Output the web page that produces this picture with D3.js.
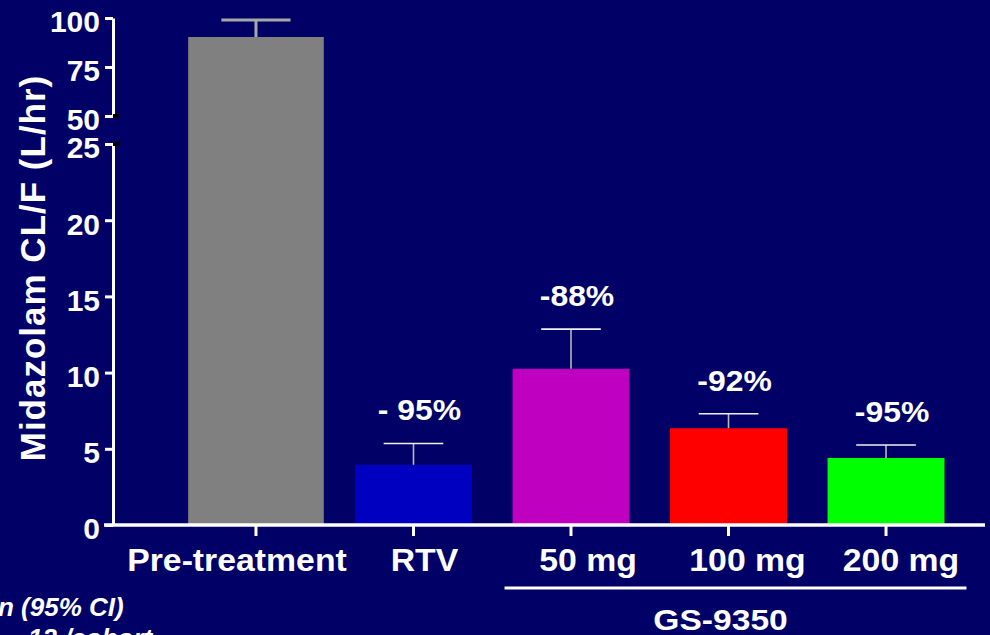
<!DOCTYPE html>
<html>
<head>
<meta charset="utf-8">
<script src="https://cdn.jsdelivr.net/npm/d3@7"></script>
<style>
  html, body { margin: 0; padding: 0; background: #000066; overflow: hidden; }
  svg { display: block; }
  text { font-family: "Liberation Sans", Arial, sans-serif; font-weight: bold; fill: #ffffff; }
</style>
</head>
<body>
<svg id="chart" width="990" height="635"></svg>
<script>
// Midazolam clearance by treatment (geometric mean with upper 95% CI)
const categories   = ["Pre-treatment", "RTV", "50 mg", "100 mg", "200 mg"];
const clearance    = [90.3, 3.95, 10.25, 6.35, 4.4];
const upperCI      = [99.0, 5.35, 12.85, 7.3, 5.25];
const changeLabels = [null, "- 95%", "-88%", "-92%", "-95%"];
const barColors    = ["#808080", "#0000c0", "#c000c0", "#ff0000", "#00ff00"];
const lowerTicks   = [0, 5, 10, 15, 20, 25];
const upperTicks   = [50, 75, 100];
const groupMembers = ["50 mg", "100 mg", "200 mg"];
const groupLabel   = "GS-9350";
const yTitle       = "Midazolam CL/F (L/hr)";
const noteLines    = ["n (95% CI)", "12 /cohort"];

const svg = d3.select("#chart");
const W = 990, H = 635;
svg.append("rect").attr("width", W).attr("height", H).attr("fill", "#000066");

// Broken y axis: lower segment 0–25, upper segment 50–100
const yLow  = d3.scaleLinear().domain([0, 25]).range([525, 144]);
const yHigh = d3.scaleLinear().domain([50, 100]).range([116, 18]);
const yPos = v => (v <= 25 ? yLow(v) : yHigh(v));

const x = d3.scaleBand()
  .domain(categories)
  .range([166, 976])
  .paddingInner(0.2576)
  .paddingOuter(0.2);
const bw = x.bandwidth();
const cx = c => x(c) + bw / 2;
const barWidth = (c, i) => (i === 0 ? bw * 1.16 : bw);

// bars
svg.append("g").selectAll("rect")
  .data(categories)
  .join("rect")
  .attr("x", (c, i) => cx(c) - barWidth(c, i) / 2)
  .attr("width", (c, i) => barWidth(c, i))
  .attr("y", (c, i) => yPos(clearance[i]))
  .attr("height", (c, i) => 525 - yPos(clearance[i]))
  .attr("fill", (c, i) => barColors[i]);

// upper CI error bars
const err = svg.append("g");
categories.forEach((c, i) => {
  const half = barWidth(c, i) * 0.255;
  const sw = i === 0 ? 3 : 1.6;
  err.append("line")
    .attr("x1", cx(c)).attr("x2", cx(c))
    .attr("y1", yPos(clearance[i])).attr("y2", yPos(upperCI[i]))
    .attr("stroke", i === 0 ? "#a8a8a8" : "#b8b8b8").attr("stroke-width", sw);
  err.append("line")
    .attr("x1", cx(c) - half).attr("x2", cx(c) + half)
    .attr("y1", yPos(upperCI[i])).attr("y2", yPos(upperCI[i]))
    .attr("stroke", i === 0 ? "#a8a8a8" : "#f0f0f0").attr("stroke-width", sw);
});

// percent change labels
svg.append("g").selectAll("text")
  .data(categories.filter((c, i) => changeLabels[i]))
  .join("text")
  .attr("transform", c => {
    const i = categories.indexOf(c);
    return `translate(${cx(c) + 6},${yPos(upperCI[i]) - 23}) scale(1.1,1)`;
  })
  .attr("text-anchor", "middle")
  .style("font-size", "29px")
  .text(c => changeLabels[categories.indexOf(c)]);

// y axis segments
function styleAxis(g) {
  g.selectAll("path.domain").attr("stroke", "#fff").attr("stroke-width", 3);
  g.selectAll(".tick line").attr("stroke", "#fff").attr("stroke-width", 3);
  g.selectAll(".tick text")
    .attr("fill", "#fff")
    .attr("dy", "0.46em")
    .style("font-size", "30px")
    .style("font-family", "'Liberation Sans', Arial, sans-serif")
    .style("font-weight", "bold");
}
svg.append("g")
  .attr("transform", "translate(113,0)")
  .call(d3.axisLeft(yLow).tickValues(lowerTicks).tickSize(8).tickSizeOuter(0).tickPadding(5))
  .call(styleAxis);
svg.append("g")
  .attr("transform", "translate(113,0)")
  .call(d3.axisLeft(yHigh).tickValues(upperTicks).tickSize(8).tickSizeOuter(0).tickPadding(5))
  .call(styleAxis);

// break markers
[yHigh(50), yLow(25)].forEach(yy => {
  svg.append("rect").attr("x", 113).attr("y", yy - 2).attr("width", 7).attr("height", 4).attr("fill", "#000");
});

// x axis
svg.append("line")
  .attr("x1", 104).attr("x2", 985).attr("y1", 525).attr("y2", 525)
  .attr("stroke", "#fff").attr("stroke-width", 3.5);
svg.append("g").selectAll("line")
  .data(categories)
  .join("line")
  .attr("x1", c => cx(c)).attr("x2", c => cx(c))
  .attr("y1", 525).attr("y2", 536)
  .attr("stroke", "#fff").attr("stroke-width", 3);

// category labels
const labelNudge = [-19, 11, 17, 19, 15];
svg.append("g").selectAll("text")
  .data(categories)
  .join("text")
  .attr("transform", (c, i) => `translate(${cx(c) + labelNudge[i]},571) scale(1.09,1)`)
  .attr("text-anchor", "middle")
  .style("font-size", "31px")
  .text(c => c);

// group bracket
const gx0 = x(groupMembers[0]) - 8;
const gx1 = x(groupMembers[groupMembers.length - 1]) + bw + 22;
svg.append("line")
  .attr("x1", gx0).attr("x2", gx1).attr("y1", 588).attr("y2", 588)
  .attr("stroke", "#fff").attr("stroke-width", 3);
svg.append("text")
  .attr("transform", `translate(${(gx0 + gx1) / 2 - 15},630) scale(1.12,1)`)
  .attr("text-anchor", "middle")
  .style("font-size", "30px")
  .text(groupLabel);

// y title
svg.append("text")
  .attr("transform", "translate(45,268) rotate(-90)")
  .attr("text-anchor", "middle")
  .style("font-size", "35px")
  .style("letter-spacing", "1px")
  .text(yTitle);

// footnote
svg.append("text")
  .attr("x", -2).attr("y", 616)
  .style("font-size", "26px").style("font-style", "italic")
  .text(noteLines[0]);
svg.append("text")
  .attr("x", 28).attr("y", 647)
  .style("font-size", "26px").style("font-style", "italic")
  .text(noteLines[1]);
</script>
</body>
</html>
